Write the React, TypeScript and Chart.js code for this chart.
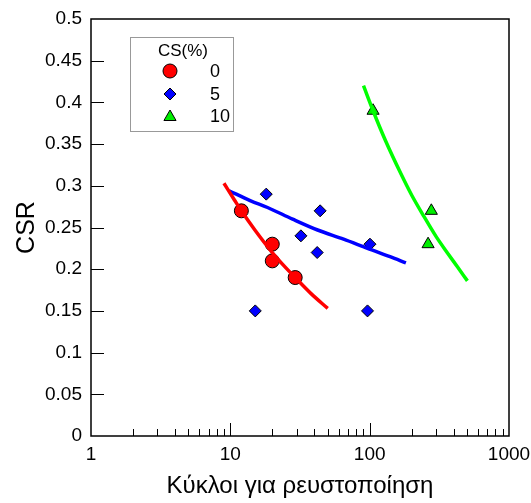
import React, { useEffect, useRef } from 'react';
import { Chart, registerables } from 'chart.js';

Chart.register(...registerables);

// ---- data ----
const legendTitle = 'CS(%)';
const seriesNames = ['0', '5', '10'];

const cs0Cycles = [12, 20, 20, 29.2];
const cs0Csr = [0.27, 0.23, 0.21, 0.19];

const cs5Cycles = [18.1, 15.1, 32.1, 44.1, 42.0, 100.5, 96.5];
const cs5Csr = [0.29, 0.15, 0.24, 0.27, 0.22, 0.23, 0.15];

const cs10Cycles = [105.8, 277, 262.6];
const cs10Csr = [0.39, 0.27, 0.23];

// trend curves
const fit0Cycles = [9, 10.7, 12, 15, 20, 24.3, 29.2, 37.8, 50];
const fit0Csr = [0.303, 0.283, 0.27, 0.247, 0.22, 0.204, 0.19, 0.171, 0.153];

const fit5Cycles = [9.8, 14, 18.5, 28, 42.3, 65, 96.5, 140, 182];
const fit5Csr = [0.294, 0.282, 0.274, 0.26, 0.247, 0.236, 0.225, 0.215, 0.2075];

const fit10Cycles = [90.3, 105.8, 130, 167, 200, 245.7, 300, 361.7, 430, 503];
const fit10Csr = [0.42, 0.39, 0.354, 0.315, 0.289, 0.263, 0.239, 0.2195, 0.202, 0.186];

const xTickValues = [1, 10, 100, 1000];
const xTitle = 'Κύκλοι για ρευστοποίηση';
const yTitle = 'CSR';

const RED = '#ff0000';
const BLUE = '#0000ff';
const GREEN_LINE = '#00ff00';
const GREEN_MARK = '#00ee00';
const FONT = "'Liberation Sans', Arial, sans-serif";

const toXY = (xs: number[], ys: number[]) => xs.map((x, i) => ({ x, y: ys[i] }));

function drawMarker(ctx: CanvasRenderingContext2D, kind: string, x: number, y: number, r: number, fill: string) {
  ctx.beginPath();
  if (kind === 'circle') {
    ctx.arc(x, y, r, 0, Math.PI * 2);
  } else if (kind === 'rectRot') {
    ctx.moveTo(x - r, y);
    ctx.lineTo(x, y - r);
    ctx.lineTo(x + r, y);
    ctx.lineTo(x, y + r);
  } else {
    for (let i = 0; i < 3; i++) {
      const a = (i * 2 * Math.PI) / 3;
      const px = x + Math.sin(a) * r;
      const py = y - Math.cos(a) * r;
      if (i === 0) ctx.moveTo(px, py);
      else ctx.lineTo(px, py);
    }
  }
  ctx.closePath();
  ctx.fillStyle = fill;
  ctx.fill();
  ctx.lineWidth = 1;
  ctx.strokeStyle = '#000';
  ctx.stroke();
}

const decorPlugin = {
  id: 'decor',
  beforeDatasetsDraw(chart: any) {
    const { ctx, chartArea: a, scales } = chart;
    ctx.save();
    ctx.strokeStyle = '#000';
    ctx.lineWidth = 1;
    const ys = scales.y;
    for (let k = 1; k < 10; k++) {
      const py = Math.round(ys.getPixelForValue(k * 0.05)) + 0.5;
      ctx.beginPath();
      ctx.moveTo(a.left, py);
      ctx.lineTo(a.left + 13, py);
      ctx.stroke();
    }
    const xs = scales.x;
    for (let d = 1; d < 1000; d *= 10) {
      for (let m = 1; m <= 9; m++) {
        const v = d * m;
        if (v <= 1) continue;
        const px = Math.round(xs.getPixelForValue(v)) + 0.5;
        const len = m === 1 ? 13 : 7;
        ctx.beginPath();
        ctx.moveTo(px, a.bottom);
        ctx.lineTo(px, a.bottom - len);
        ctx.stroke();
      }
    }
    ctx.restore();
  },
  afterDraw(chart: any) {
    const { ctx, chartArea: a } = chart;
    ctx.save();
    ctx.strokeStyle = '#000';
    ctx.lineWidth = 1.5;
    ctx.strokeRect(a.left, a.top, a.right - a.left, a.bottom - a.top);

    const bx = 130.5, by = 37.5, bw = 103, bh = 94;
    ctx.fillStyle = '#fff';
    ctx.fillRect(bx, by, bw, bh);
    ctx.strokeStyle = '#999';
    ctx.lineWidth = 1;
    ctx.strokeRect(bx, by, bw, bh);
    ctx.fillStyle = '#000';
    ctx.font = `17px ${FONT}`;
    ctx.textBaseline = 'middle';
    ctx.textAlign = 'center';
    ctx.fillText(legendTitle, 183, 51);
    const kinds = ['circle', 'rectRot', 'triangle'];
    const fills = [RED, BLUE, GREEN_MARK];
    const radii = [7, 6, 7];
    const rows = [71, 94, 116];
    for (let i = 0; i < 3; i++) {
      drawMarker(ctx, kinds[i], 170, rows[i] + (i === 2 ? 1 : 0), radii[i], fills[i]);
      ctx.fillStyle = '#000';
      ctx.textAlign = 'left';
      ctx.font = `18px ${FONT}`;
      ctx.fillText(seriesNames[i], 210, rows[i] + 1);
    }
    ctx.restore();
  },
};

export default function App() {
  const ref = useRef<HTMLCanvasElement | null>(null);

  useEffect(() => {
    if (!ref.current) return;
    const pointBase = { showLine: false, pointBorderColor: '#000', pointBorderWidth: 1, order: 2 };
    const lineBase = { showLine: true, pointRadius: 0, borderWidth: 3.5, tension: 0.4, cubicInterpolationMode: 'monotone', order: 1, fill: false };
    const chart = new Chart(ref.current, {
      type: 'scatter',
      data: {
        datasets: [
          { ...lineBase, label: 'fit0', data: toXY(fit0Cycles, fit0Csr), borderColor: RED },
          { ...lineBase, label: 'fit5', data: toXY(fit5Cycles, fit5Csr), borderColor: BLUE },
          { ...lineBase, label: 'fit10', data: toXY(fit10Cycles, fit10Csr), borderColor: GREEN_LINE },
          { ...pointBase, label: seriesNames[0], data: toXY(cs0Cycles, cs0Csr), pointStyle: 'circle', pointRadius: 7, pointBackgroundColor: RED },
          { ...pointBase, label: seriesNames[1], data: toXY(cs5Cycles, cs5Csr), pointStyle: 'rectRot', pointRadius: 6, pointBackgroundColor: BLUE },
          { ...pointBase, label: seriesNames[2], data: toXY(cs10Cycles, cs10Csr), pointStyle: 'triangle', pointRadius: 7, pointBackgroundColor: GREEN_MARK },
        ] as any,
      },
      options: {
        animation: false,
        responsive: false,
        maintainAspectRatio: false,
        events: [],
        layout: { padding: { top: 19, right: 22, left: 0, bottom: 0 } },
        plugins: { legend: { display: false }, tooltip: { enabled: false } },
        scales: {
          x: {
            type: 'logarithmic',
            min: 1,
            max: 1000,
            grid: { display: false, drawTicks: false },
            border: { display: false },
            ticks: {
              autoSkip: false,
              maxRotation: 0,
              padding: 7,
              color: '#000',
              font: { family: FONT, size: 19 },
              callback: (v: any) => (xTickValues.includes(Number(v)) ? String(v) : ''),
            },
            title: { display: true, text: xTitle, color: '#000', font: { family: FONT, size: 24 }, padding: { top: 0, bottom: 2 } },
            afterFit: (s: any) => { s.height = 67; s.paddingLeft = 0; s.paddingRight = 0; },
          },
          y: {
            type: 'linear',
            min: 0,
            max: 0.5,
            grid: { display: false, drawTicks: false },
            border: { display: false },
            ticks: {
              stepSize: 0.05,
              padding: 9,
              color: '#000',
              font: { family: FONT, size: 19 },
              callback: (v: any) => String(Math.round(Number(v) * 100) / 100),
            },
            title: { display: true, text: yTitle, color: '#000', font: { family: FONT, size: 25 }, padding: { top: 12, bottom: 0 } },
            afterFit: (s: any) => { s.width = 91; s.paddingTop = 0; s.paddingBottom = 0; },
          },
        },
      } as any,
      plugins: [decorPlugin],
    });
    return () => chart.destroy();
  }, []);

  return (
    <div style={{ position: 'absolute', left: 0, top: 0, width: 531, height: 503, background: '#fff' }}>
      <canvas ref={ref} width={531} height={503} style={{ width: 531, height: 503, display: 'block' }} />
    </div>
  );
}
